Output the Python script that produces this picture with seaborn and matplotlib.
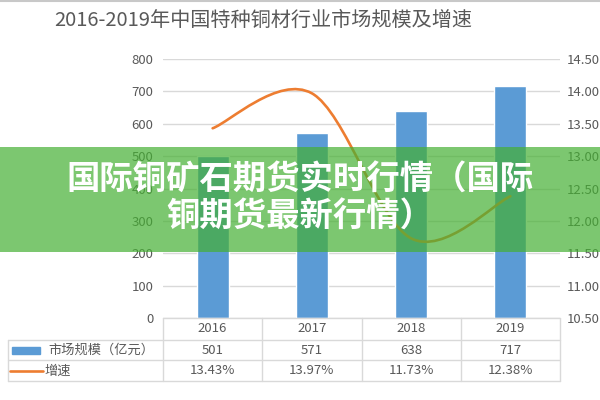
import numpy as np
import pandas as pd
import matplotlib
matplotlib.use('Agg')
import matplotlib.pyplot as plt
import matplotlib.transforms as trs
from matplotlib.path import Path
from matplotlib.patches import PathPatch, Rectangle
from matplotlib.lines import Line2D
import seaborn as sns

# 数据
years = ['2016', '2017', '2018', '2019']
market_size = [501, 571, 638, 717]          # 市场规模（亿元）
growth = [13.43, 13.97, 11.73, 12.38]       # 增速 %
title = '2016-2019年中国特种铜材行业市场规模及增速'
banner = '国际铜矿石期货实时行情（国际\n铜期货最新行情）'
row_labels = ['市场规模（亿元）', '增速']

sns.set_style('white')
plt.rcParams['font.family'] = ['Noto Sans CJK SC', 'DejaVu Sans']

BLUE = '#5B9BD5'
ORANGE = '#ED7D31'
GRAY = '#595959'
LINE = '#D9D9D9'


def fx(x):
    return x / 600


def fy(y):
    return 1 - y / 400


fig = plt.figure(figsize=(6, 4), dpi=100)
ax = fig.add_axes([fx(163), fy(318), fx(560) - fx(163), fy(59) - fy(318)])

df = pd.DataFrame({'year': years, 'size': market_size})
sns.barplot(data=df, x='year', y='size', color=BLUE, width=0.32,
            saturation=1, ax=ax, zorder=2)
ax.set_ylim(0, 800)
ax.set_yticks(range(0, 801, 100))
ax.set_xlabel('')
ax.set_ylabel('')
ax.set_xticklabels([])
ax.tick_params(axis='x', length=0)
ax.tick_params(axis='y', length=0, pad=7, labelsize=9.5, labelcolor=GRAY)
ax.yaxis.grid(True, color=LINE, lw=1)
ax.set_axisbelow(True)
for s in ax.spines.values():
    s.set_visible(False)

# 右轴：增速（平滑曲线）
ax2 = ax.twinx()
ax2.set_ylim(10.5, 14.5)
ax2.set_yticks(np.arange(10.5, 14.51, 0.5))
ax2.set_yticklabels([f'{v:.2f}' for v in np.arange(10.5, 14.51, 0.5)])
ax2.tick_params(axis='y', length=0, pad=5, labelsize=9.5, labelcolor=GRAY)
for s in ax2.spines.values():
    s.set_visible(False)

pts = np.column_stack([np.arange(len(growth)), growth]).astype(float)
ext = np.vstack([pts[0], pts, pts[-1]])
verts = [pts[0]]
codes = [Path.MOVETO]
for i in range(len(pts) - 1):
    p0, p1, p2, p3 = ext[i], ext[i + 1], ext[i + 2], ext[i + 3]
    verts += [p1 + (p2 - p0) / 6, p2 - (p3 - p1) / 6, p2]
    codes += [Path.CURVE4] * 3
ax2.add_patch(PathPatch(Path(verts, codes), facecolor='none',
                        edgecolor=ORANGE, lw=1.9, capstyle='round'))

# 标题
fig.text(fx(263), fy(20), title, ha='center', va='center',
         size=14.5, color=GRAY)

# 数据表
bt = trs.blended_transform_factory(ax.transData, fig.transFigure)
for y in [318, 340, 360, 381]:
    x0 = fx(163) if y == 318 else fx(8)
    fig.add_artist(Line2D([x0, fx(560)], [fy(y), fy(y)], color=LINE, lw=1))
fig.add_artist(Line2D([fx(8), fx(8)], [fy(340), fy(381)], color=LINE, lw=1))
for b in np.arange(-0.5, len(years), 1.0):
    ax.add_artist(Line2D([b, b], [fy(318), fy(381)], color=LINE, lw=1,
                         transform=bt, clip_on=False))
for i, yr in enumerate(years):
    ax.text(i, fy(329), yr, transform=bt, ha='center', va='center',
            size=9.5, color=GRAY)
    ax.text(i, fy(350), f'{market_size[i]}', transform=bt, ha='center',
            va='center', size=9.5, color=GRAY)
    ax.text(i, fy(371), f'{growth[i]:.2f}%', transform=bt, ha='center',
            va='center', size=9.5, color=GRAY)

fig.add_artist(Rectangle((fx(12), fy(354)), fx(28), fy(347) - fy(354),
                         transform=fig.transFigure, color=BLUE))
fig.add_artist(Line2D([fx(10), fx(43)], [fy(371), fy(371)], color=ORANGE, lw=1.9))
fig.text(fx(48), fy(350), row_labels[0], ha='left', va='center',
         size=9.5, color=GRAY)
fig.text(fx(44), fy(371), row_labels[1], ha='left', va='center',
         size=9.5, color=GRAY)

# 顶部边线
fig.add_artist(Line2D([0, 1], [fy(0.7), fy(0.7)], color='#C8C8C8', lw=1.5))

# 绿色横幅
fig.add_artist(Rectangle((0, fy(252)), 1, fy(147) - fy(252),
                         transform=fig.transFigure, color=(0.27, 0.69, 0.2),
                         alpha=0.7, lw=0, zorder=5))
fig.text(0.5, fy(199), banner, ha='center', va='center', size=24,
         weight='bold', color='white', linespacing=1.15, zorder=6)

fig.savefig('out.png', dpi=100)
